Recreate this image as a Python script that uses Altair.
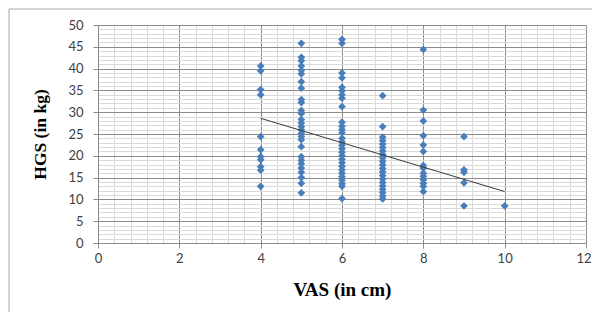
import altair as alt
import pandas as pd

# VAS (cm) columns and HGS (kg) values
vas4 = [40.6, 39.5, 35.2, 34.0, 24.4, 21.4, 19.8, 19.1, 17.5, 16.7, 13.0]
vas5 = [45.8, 42.6, 41.8, 40.6, 39.6, 38.8, 37.0, 35.5, 32.9, 32.2, 30.4, 29.7,
        28.3, 27.5, 26.7, 26.0, 25.2, 24.4, 23.7, 22.1, 19.8, 19.0, 18.2, 17.2,
        16.2, 15.0, 13.7, 11.5]
vas6 = [46.7, 45.8, 39.0, 37.9, 35.7, 34.9, 34.0, 33.2, 31.3, 27.7, 26.8, 26.0,
        25.3, 24.0, 23.2, 22.4, 21.6, 20.8, 20.0, 19.2, 18.4, 17.6, 16.8, 16.0,
        15.2, 14.4, 13.6, 13.0, 10.2]
vas7 = [33.8, 26.7, 24.3, 23.5, 22.7, 21.9, 21.1, 20.3, 19.5, 18.7, 17.9, 17.1,
        16.3, 15.5, 14.7, 13.9, 13.1, 12.3, 11.6, 10.8, 10.1]
vas8 = [44.4, 30.5, 28.0, 24.6, 22.5, 21.0, 17.8, 17.2, 16.0, 15.3, 14.5, 13.7,
        13.0, 11.8]
vas9 = [24.4, 16.8, 16.2, 13.8, 8.5]
vas10 = [8.5]

# linear trend line (end points)
trend_vas = [4, 10]
trend_hgs = [28.6, 11.8]

x_ticks = [round(i * 0.4, 1) for i in range(31)]   # 0 .. 12 step 0.4
y_ticks = list(range(0, 51))                        # 0 .. 50 step 1

rows = []
for xv, ys in [(4, vas4), (5, vas5), (6, vas6), (7, vas7), (8, vas8), (9, vas9), (10, vas10)]:
    for yv in ys:
        rows.append({"VAS": xv, "HGS": yv})
df = pd.DataFrame(rows)
trend_df = pd.DataFrame({"VAS": trend_vas, "HGS": trend_hgs})

W, H = 488, 218
label_font = "Lato"
title_font = "Liberation Serif"

x_axis = alt.Axis(
    values=x_ticks, tickCount=len(x_ticks) + 5,
    labelExpr="datum.value % 2 === 0 ? format(datum.value, 'd') : ''",
    labelOverlap=False, labelFlush=False,
    labelAlign={"condition": {"test": "datum.value === 12", "value": "right"}, "value": "center"},
    labelOffset={"condition": {"test": "datum.value === 12", "value": 5}, "value": 0},
    gridColor={"condition": {"test": "datum.value % 2 !== 0", "value": "#d9d9d9"}, "value": "#8c8c8c"},
    tickColor={"condition": {"test": "datum.value % 2 !== 0", "value": "transparent"}, "value": "#8c8c8c"},
    tickSize=5, labelPadding=4, domainColor="#8c8c8c",
    labelFont=label_font, labelFontSize=13, labelColor="#404040",
    title="VAS (in cm)", titleFont=title_font, titleFontSize=19, titleFontWeight="bold",
    titleColor="#000000", titleX=W / 2, titleY=46, titleBaseline="middle", titleAlign="center",
)
y_axis = alt.Axis(
    values=y_ticks, tickCount=len(y_ticks) + 5,
    labelExpr="datum.value % 5 === 0 ? format(datum.value, 'd') : ''",
    labelOverlap=False,
    gridColor={"condition": {"test": "datum.value % 5 !== 0", "value": "#d9d9d9"}, "value": "#8c8c8c"},
    tickColor={"condition": {"test": "datum.value % 5 !== 0", "value": "transparent"}, "value": "#8c8c8c"},
    tickSize=5, labelPadding=10, domainColor="#8c8c8c",
    labelFont=label_font, labelFontSize=13, labelColor="#404040",
    title="HGS (in kg)", titleFont=title_font, titleFontSize=17.5, titleFontWeight="bold",
    titleColor="#000000", titleAngle=-90, titleX=-58, titleY=H / 2,
    titleBaseline="middle", titleAlign="center",
)

xs = alt.Scale(domain=[0, 12], nice=False, zero=False)
ys = alt.Scale(domain=[0, 50], nice=False)

frame = alt.Chart(pd.DataFrame({"a": [0]})).mark_rect(
    fill="transparent", stroke="#a6a6a6", strokeWidth=1, clip=False
).encode(x=alt.value(-89), x2=alt.value(620), y=alt.value(-16), y2=alt.value(320))

points = alt.Chart(df).mark_point(
    shape="diamond", filled=True, size=60, color="#4a7ebb", opacity=1
).encode(
    x=alt.X("VAS:Q", scale=xs, axis=x_axis),
    y=alt.Y("HGS:Q", scale=ys, axis=y_axis),
)

trend = alt.Chart(trend_df).mark_line(color="#3a3a3a", strokeWidth=1).encode(
    x=alt.X("VAS:Q", scale=xs),
    y=alt.Y("HGS:Q", scale=ys),
)

chart = alt.layer(frame, points, trend).properties(
    width=W, height=H,
    autosize=alt.AutoSizeParams(type="none"),
    padding={"left": 90, "top": 17, "right": 6, "bottom": 69},
).configure_view(stroke=None).configure(background="white")

chart.save("out.html", embed_options={"renderer": "svg", "actions": False})
